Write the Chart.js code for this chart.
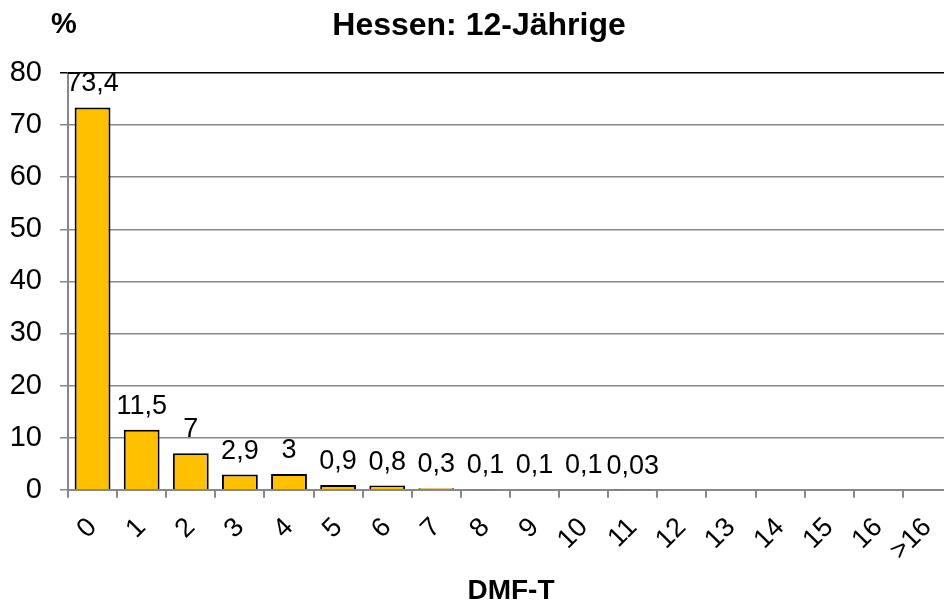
<!DOCTYPE html>
<html>
<head>
<meta charset="utf-8">
<script src="https://cdn.jsdelivr.net/npm/chart.js@4"></script>
<style>
  html, body { margin: 0; padding: 0; background: #fff; overflow: hidden; }
  #wrap { width: 970px; height: 603px; position: relative; }
</style>
</head>
<body>
<div id="wrap"><canvas id="chart"></canvas></div>
<script>
// DMF-T categories and share of 12-year-olds in %
var categories = ["0", "1", "2", "3", "4", "5", "6", "7", "8", "9", "10", "11", "12", "13", "14", "15", "16", ">16"];
var percentValues = [73.4, 11.5, 7, 2.9, 3, 0.9, 0.8, 0.3, 0.1, 0.1, 0.1, 0.03, null, null, null, null, null, null];
var yTicks = [0, 10, 20, 30, 40, 50, 60, 70, 80];

var FONT = "'Liberation Sans', Arial, sans-serif";

function toGerman(v) {
    return String(v).replace(".", ",");
}

var textPlugin = {
    id: "texts",
    afterDatasetsDraw: function(chart) {
        var ctx = chart.ctx;
        var meta = chart.getDatasetMeta(0);
        ctx.save();
        ctx.fillStyle = "#000";
        ctx.font = "27px " + FONT;
        ctx.textAlign = "center";
        ctx.textBaseline = "alphabetic";
        meta.data.forEach(function(bar, i) {
            var v = percentValues[i];
            if (v === null) return;
            ctx.fillText(toGerman(v), bar.x, bar.y - 16);
        });
        ctx.restore();
    },
    afterDraw: function(chart) {
        var ctx = chart.ctx;
        ctx.save();
        ctx.fillStyle = "#000";
        ctx.textAlign = "center";
        ctx.textBaseline = "middle";
        ctx.font = "bold 32px " + FONT;
        ctx.fillText("Hessen: 12-Jährige", 479, 26);
        ctx.font = "bold 29px " + FONT;
        ctx.fillText("%", 64, 25);
        ctx.font = "bold 28px " + FONT;
        ctx.fillText("DMF-T", 511, 591);
        ctx.restore();
    }
};

new Chart(document.getElementById("chart"), {
    type: "bar",
    data: {
        labels: categories,
        datasets: [{
            data: percentValues,
            backgroundColor: "#FFC000",
            borderColor: "#000",
            borderWidth: 2,
            barPercentage: 0.73,
            categoryPercentage: 1
        }]
    },
    options: {
        responsive: true,
        maintainAspectRatio: false,
        animation: false,
        layout: { padding: { top: 73, right: 18, bottom: 22, left: 10 } },
        plugins: {
            legend: { display: false },
            tooltip: { enabled: false },
            title: { display: false }
        },
        scales: {
            x: {
                grid: {
                    display: true,
                    drawOnChartArea: false,
                    drawTicks: true,
                    tickLength: 8,
                    color: "#888",
                    lineWidth: 2
                },
                border: { color: "#888", width: 2 },
                ticks: {
                    color: "#000",
                    font: { size: 27, family: FONT },
                    minRotation: 45,
                    maxRotation: 45,
                    padding: 14,
                    autoSkip: false
                }
            },
            y: {
                min: 0,
                max: 80,
                afterBuildTicks: function(scale) {
                    scale.ticks = yTicks.map(function(v) { return { value: v }; });
                },
                afterFit: function(scale) {
                    scale.width = 58;
                },
                grid: {
                    color: function(c) { return c.tick && c.tick.value === 80 ? "#000" : "#888"; },
                    lineWidth: 1.5,
                    tickLength: 8
                },
                border: { color: "#888", width: 2 },
                ticks: {
                    color: "#000",
                    font: { size: 29, family: FONT },
                    padding: 18
                }
            }
        }
    },
    plugins: [textPlugin]
});
</script>
</body>
</html>
